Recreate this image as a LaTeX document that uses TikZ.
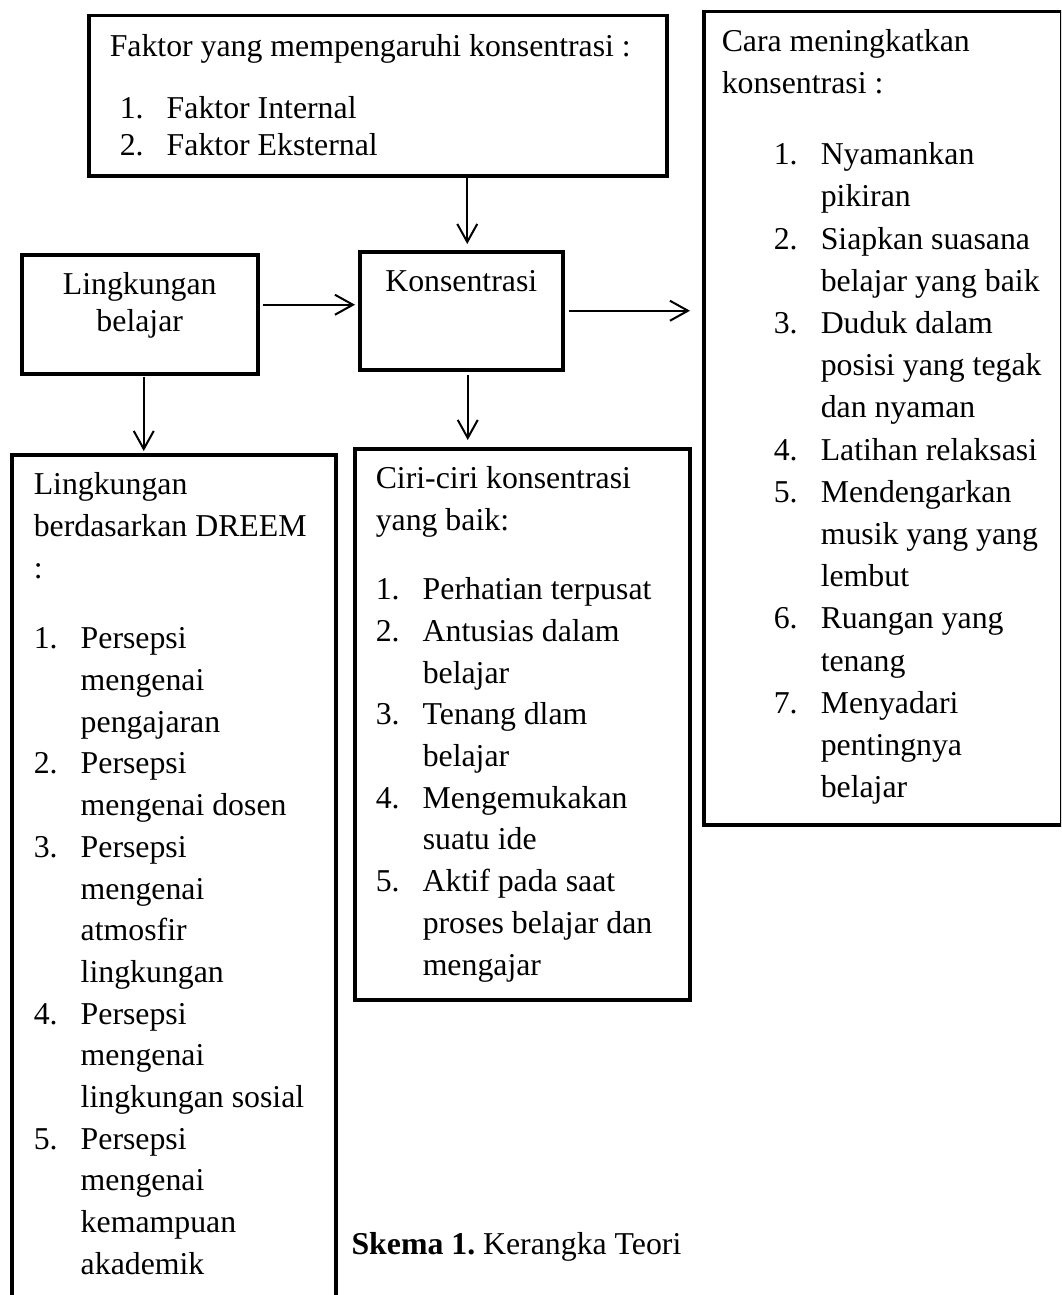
\documentclass[tikz,border=0pt]{standalone}
\usepackage{fontspec}
\setmainfont{Liberation Serif}
\usetikzlibrary{arrows.meta,calc}
\frenchspacing

% isi kotak: lebar, tinggi, jarak kiri, jarak atas, teks
\newcommand{\isi}[5]{\parbox[t][#2][t]{#1}{\raggedright\leftskip=#3\relax\parindent=0pt\vspace*{#4}\strut #5}}
\newcommand{\tengah}[4]{\parbox[t][#2][t]{#1}{\centering\vspace*{#3}\strut #4}}
\newcommand{\nomor}[1]{\makebox[47pt][l]{#1}}
\newcommand{\lanjut}{\hspace*{47pt}}

\begin{document}
\begin{tikzpicture}[x=1pt, y=-1pt,
  every node/.style={font=\fontsize{31.8pt}{41.7pt}\selectfont},
  kotak/.style={draw, line width=3.5pt, inner sep=0pt, anchor=north west},
  rapat/.style={font=\fontsize{31.8pt}{37pt}\selectfont},
  panah/.style={line width=2pt, -{Straight Barb[length=18pt, width=20pt, line width=2pt]}}]
  \useasboundingbox (0,0) rectangle (1061,1295);
  \fill[white] (0,0) rectangle (1061,1295);
  \clip (0,0) rectangle (1061,1295);

  \node[kotak, rapat] (faktor) at (87,14) {\isi{578pt}{160pt}{21pt}{15.1pt}{%
    Faktor yang mempengaruhi konsentrasi :\\[25pt]
    \hspace*{10pt}\nomor{1.}Faktor Internal\\
    \hspace*{10pt}\nomor{2.}Faktor Eksternal}};

  \node[kotak, font=\fontsize{31.8pt}{42.2pt}\selectfont] (cara) at (702,10) {\isi{358pt}{813pt}{18pt}{10.5pt}{%
    Cara meningkatkan\\
    konsentrasi :\\[28.6pt]
    \hspace*{52pt}\nomor{1.}Nyamankan\\
    \hspace*{52pt}\lanjut pikiran\\
    \hspace*{52pt}\nomor{2.}Siapkan suasana\\
    \hspace*{52pt}\lanjut belajar yang baik\\
    \hspace*{52pt}\nomor{3.}Duduk dalam\\
    \hspace*{52pt}\lanjut posisi yang tegak\\
    \hspace*{52pt}\lanjut dan nyaman\\
    \hspace*{52pt}\nomor{4.}Latihan relaksasi\\
    \hspace*{52pt}\nomor{5.}Mendengarkan\\
    \hspace*{52pt}\lanjut musik yang yang\\
    \hspace*{52pt}\lanjut lembut\\
    \hspace*{52pt}\nomor{6.}Ruangan yang\\
    \hspace*{52pt}\lanjut tenang\\
    \hspace*{52pt}\nomor{7.}Menyadari\\
    \hspace*{52pt}\lanjut pentingnya\\
    \hspace*{52pt}\lanjut belajar}};

  \node[kotak, rapat] (lingkungan) at (20,253) {\tengah{236pt}{119pt}{14.1pt}{Lingkungan\\belajar}};
  \node[kotak] (konsentrasi) at (358,250) {\tengah{203pt}{118pt}{10.8pt}{Konsentrasi}};

  \node[kotak] (dreem) at (10,453) {\isi{324pt}{900pt}{22pt}{10.8pt}{%
    Lingkungan\\
    berdasarkan DREEM\\
    :\\[29pt]
    \nomor{1.}Persepsi\\
    \lanjut mengenai\\
    \lanjut pengajaran\\
    \nomor{2.}Persepsi\\
    \lanjut mengenai dosen\\
    \nomor{3.}Persepsi\\
    \lanjut mengenai\\
    \lanjut atmosfir\\
    \lanjut lingkungan\\
    \nomor{4.}Persepsi\\
    \lanjut mengenai\\
    \lanjut lingkungan sosial\\
    \nomor{5.}Persepsi\\
    \lanjut mengenai\\
    \lanjut kemampuan\\
    \lanjut akademik}};

  \node[kotak] (ciri) at (353,447) {\isi{335pt}{551pt}{21pt}{10.8pt}{%
    Ciri-ciri konsentrasi\\
    yang baik:\\[27.6pt]
    \nomor{1.}Perhatian terpusat\\
    \nomor{2.}Antusias dalam\\
    \lanjut belajar\\
    \nomor{3.}Tenang dlam\\
    \lanjut belajar\\
    \nomor{4.}Mengemukakan\\
    \lanjut suatu ide\\
    \nomor{5.}Aktif pada saat\\
    \lanjut proses belajar dan\\
    \lanjut mengajar}};

  \node[anchor=base west] (skema) at (348,1254) {\textbf{Skema 1.} Kerangka Teori};

  % panah
  \coordinate (a1) at ($(faktor.south -| konsentrasi.north)+(6,0)$);
  \draw[panah, shorten >=6pt] (a1) -- (a1 |- konsentrasi.north);
  \coordinate (a2) at ($(lingkungan.east)+(0,-9.5)$);
  \draw[panah, shorten <=3pt, shorten >=3pt] (a2) -- (a2 -| konsentrasi.west);
  \draw[panah, shorten <=4pt, shorten >=12pt] (konsentrasi.east) -- (konsentrasi.east -| cara.west);
  \coordinate (a3) at ($(lingkungan.south)+(4,0)$);
  \draw[panah, shorten <=1pt, shorten >=2pt] (a3) -- (a3 |- dreem.north);
  \coordinate (a4) at ($(konsentrasi.south)+(6.5,0)$);
  \draw[panah, shorten <=3pt, shorten >=7pt] (a4) -- (a4 |- ciri.north);
\end{tikzpicture}
\end{document}
